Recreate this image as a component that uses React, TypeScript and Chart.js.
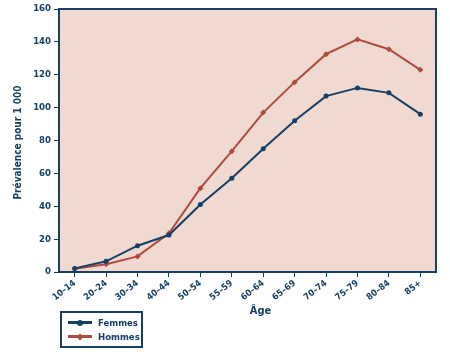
import React, { useEffect, useRef } from "react";
import { Chart, registerables } from "chart.js";

Chart.register(...registerables);

const categories = ["10–14", "20–24", "30–34", "40–44", "50–54", "55–59", "60–64", "65–69", "70–74", "75–79", "80–84", "85+"];
const femmes = [2.2, 6.5, 16, 22.5, 41, 57, 75, 92, 107, 112, 109, 96];
const hommes = [2, 4.7, 9.5, 23.5, 51, 73.5, 97, 115.5, 132.5, 141.5, 135.5, 123];
const yTitle = "Prévalence pour 1 000";
const xTitle = "Âge";
const seriesNames = ["Femmes", "Hommes"];

const NAVY = "#163f66";
const RED = "#b04a3d";
const BG = "#efd9d0";
const FONT = '"DejaVu Sans Condensed", "DejaVu Sans", sans-serif';

const framePlugin = {
  id: "frame",
  beforeDraw(chart: any) {
    const { ctx, chartArea: a } = chart;
    ctx.save();
    ctx.fillStyle = BG;
    ctx.fillRect(a.left, a.top, a.right - a.left, a.bottom - a.top);
    ctx.restore();
  },
  afterDraw(chart: any) {
    const { ctx, chartArea: a } = chart;
    ctx.save();
    ctx.strokeStyle = NAVY;
    ctx.lineWidth = 2;
    ctx.strokeRect(a.left, a.top, a.right - a.left, a.bottom - a.top);
    ctx.fillStyle = NAVY;
    ctx.font = `bold 11px ${FONT}`;
    ctx.textAlign = "center";
    ctx.textBaseline = "middle";
    ctx.fillText(xTitle, a.left + (a.right - a.left) / 2 + 13, a.bottom + 39);
    ctx.translate(18, (a.top + a.bottom) / 2 + 2);
    ctx.rotate(-Math.PI / 2);
    ctx.font = `bold 10px ${FONT}`;
    ctx.fillText(yTitle, 0, 0);
    ctx.restore();
  },
};

function LegendRow({ color, label, diamond }: { color: string; label: string; diamond?: boolean }) {
  return (
    <div style={{ display: "flex", alignItems: "center", height: 14 }}>
      <div style={{ position: "relative", width: 24, height: 3, background: color, marginRight: 6 }}>
        <div
          style={{
            position: "absolute",
            left: 9,
            top: -1.5,
            width: 6,
            height: 6,
            background: color,
            borderRadius: diamond ? 0 : 3,
            transform: diamond ? "rotate(45deg) scale(0.8)" : "none",
          }}
        />
      </div>
      <span style={{ color: NAVY, fontFamily: FONT, fontWeight: "bold", fontSize: 9.5 }}>{label}</span>
    </div>
  );
}

export default function App() {
  const ref = useRef<HTMLCanvasElement>(null);
  useEffect(() => {
    const chart = new Chart(ref.current!, {
      type: "line",
      data: {
        labels: categories,
        datasets: [
          {
            label: seriesNames[0],
            data: femmes,
            borderColor: NAVY,
            backgroundColor: NAVY,
            borderWidth: 2,
            pointStyle: "circle",
            pointRadius: 2.5,
            pointBorderWidth: 0,
          },
          {
            label: seriesNames[1],
            data: hommes,
            borderColor: RED,
            backgroundColor: RED,
            borderWidth: 2,
            pointStyle: "rectRot",
            pointRadius: 3,
            pointBorderWidth: 0,
          },
        ],
      },
      options: {
        animation: false,
        responsive: false,
        layout: { padding: { left: 0, right: 14, top: 9, bottom: 0 } },
        plugins: { legend: { display: false }, tooltip: { enabled: false } },
        scales: {
          x: {
            offset: true,
            grid: { display: true, drawOnChartArea: false, tickLength: 5, color: NAVY, offset: false },
            border: { display: true, color: NAVY, width: 2 },
            ticks: {
              color: NAVY,
              font: { family: FONT, size: 9, weight: "bold" },
              minRotation: 38,
              maxRotation: 38,
              padding: 1,
              autoSkip: false,
            },
            afterFit(scale: any) {
              scale.height = 87;
            },
          },
          y: {
            min: 0,
            max: 160,
            ticks: {
              stepSize: 20,
              color: NAVY,
              font: { family: FONT, size: 9.5, weight: "bold" },
              padding: 3,
            },
            grid: { display: true, drawOnChartArea: false, tickLength: 5, color: NAVY },
            border: { display: true, color: NAVY, width: 2 },
            afterFit(scale: any) {
              scale.width = 59;
            },
          },
        },
      },
      plugins: [framePlugin],
    });
    return () => chart.destroy();
  }, []);
  return (
    <div style={{ position: "fixed", left: 0, top: 0, width: 450, height: 359, background: "#fff" }}>
      <canvas ref={ref} width={450} height={359} style={{ display: "block" }} />
      <div
        style={{
          position: "absolute",
          left: 60,
          top: 311,
          width: 73,
          height: 33,
          border: `2px solid ${NAVY}`,
          boxSizing: "content-box",
          display: "flex",
          flexDirection: "column",
          justifyContent: "center",
          paddingLeft: 6,
        }}
      >
        <LegendRow color={NAVY} label={seriesNames[0]} />
        <LegendRow color={RED} label={seriesNames[1]} diamond />
      </div>
    </div>
  );
}
